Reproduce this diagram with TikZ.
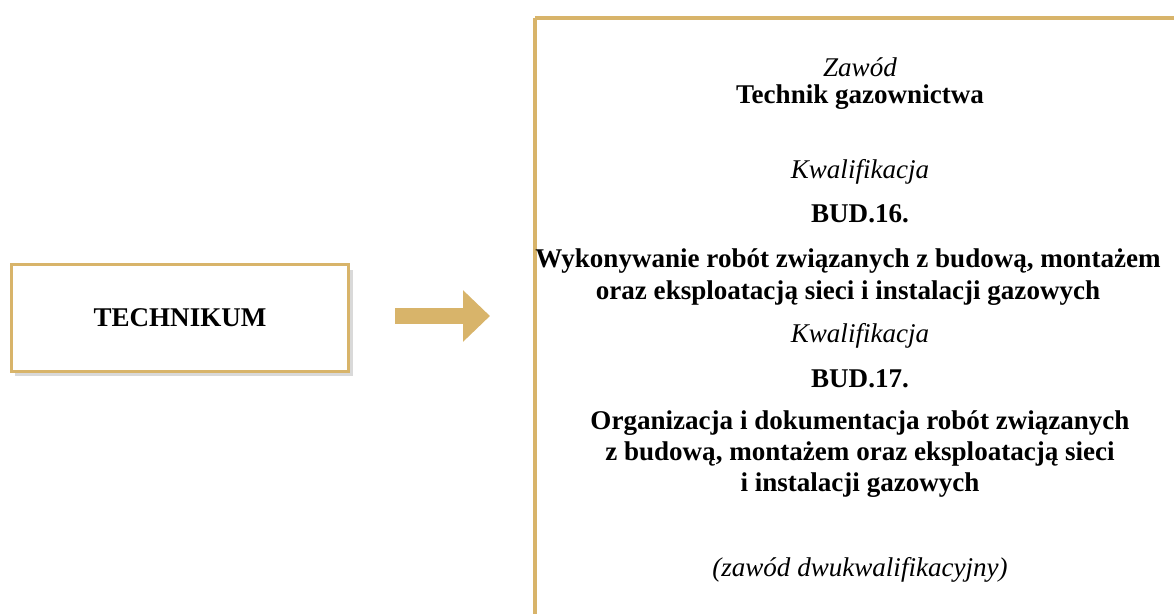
\documentclass[tikz,border=0pt]{standalone}
\usepackage{fontspec}
\setmainfont{Liberation Serif}
\usetikzlibrary{arrows.meta,shadows}

\definecolor{gold}{HTML}{D8B46A}

\tikzset{
    title/.style={font=\fontsize{15.4}{17.8}\selectfont\bfseries},
    label/.style={font=\fontsize{15.4}{17.8}\selectfont\itshape},
    goldarrow/.style={draw=gold, line width=0.32cm, -{Triangle[length=0.54cm,width=1cm]}}
}

\begin{document}
\begin{tikzpicture}[x=0.02cm,y=-0.02cm]
    \useasboundingbox (0,0) rectangle (1174,614);
    \clip (0,0) rectangle (1174,614);

    % frame on the right
    \draw[gold, line width=0.08cm] (535,18) -- (1200,18);
    \draw[gold, line width=0.08cm] (535,18) -- (535,640);

    \node[draw=gold, line width=0.06cm, fill=white, minimum width=6.76cm, minimum height=2.14cm,
        drop shadow={shadow xshift=0.08cm, shadow yshift=-0.1cm, opacity=0.25, fill=black!60},
        title] (tech) at (180,318) {TECHNIKUM};

    \coordinate (arrowstart) at (395,316);
    \coordinate (arrowend) at (490,316);
    \draw[goldarrow] (arrowstart) -- (arrowend);

    \node[label] (zawod) at (860,67) {Zawód};
    \node[title] (technik) at (860,97) {Technik gazownictwa};

    \node[label] (kwal1) at (860,172) {Kwalifikacja};
    \node[title] (bud16) at (860,214) {BUD.16.};
    \node[title, align=center] (bud16name) at (848,277)
        {Wykonywanie robót związanych z budową, montażem\\oraz eksploatacją sieci i instalacji gazowych};

    \node[label] (kwal2) at (860,336) {Kwalifikacja};
    \node[title] (bud17) at (860,379) {BUD.17.};
    \node[title, align=center] (bud17name) at (860,454)
        {Organizacja i dokumentacja robót związanych\\z budową, montażem oraz eksploatacją sieci\\i instalacji gazowych};

    \node[label] (note) at (860,570) {(zawód dwukwalifikacyjny)};
\end{tikzpicture}
\end{document}
